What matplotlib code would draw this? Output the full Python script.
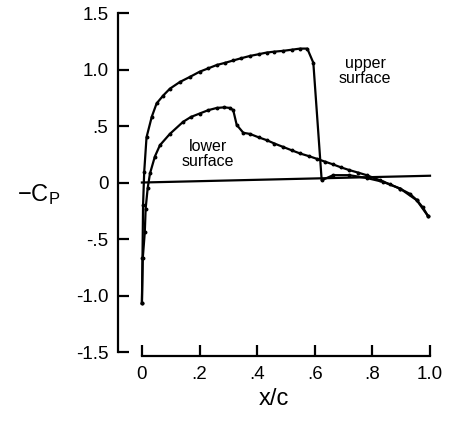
import matplotlib.pyplot as plt

plt.rcParams['font.family'] = ['Liberation Sans', 'DejaVu Sans']
plt.rcParams['mathtext.fontset'] = 'custom'
plt.rcParams['mathtext.rm'] = 'Liberation Sans'
plt.rcParams['mathtext.it'] = 'Liberation Sans'

# Upper surface pressure distribution (x/c, -Cp)
upper_x = [0.0, 0.002, 0.004, 0.008, 0.016, 0.034, 0.051, 0.074, 0.097, 0.132,
           0.167, 0.20, 0.23, 0.26, 0.29, 0.317, 0.345, 0.375, 0.405, 0.433,
           0.46, 0.49, 0.52, 0.549, 0.574, 0.595, 0.624, 0.664, 0.72, 0.78,
           0.837, 0.896, 0.954, 0.994]
upper_cp = [-1.07, -0.67, -0.2, 0.095, 0.40, 0.58, 0.70, 0.77, 0.83, 0.89,
            0.935, 0.98, 1.01, 1.04, 1.06, 1.08, 1.10, 1.12, 1.135, 1.15,
            1.158, 1.165, 1.175, 1.185, 1.185, 1.06, 0.02, 0.065, 0.065, 0.04,
            0.006, -0.053, -0.157, -0.30]

# Lower surface pressure distribution
lower_x = [0.0, 0.003, 0.01, 0.013, 0.02, 0.028, 0.045, 0.0625, 0.097, 0.143,
           0.17, 0.20, 0.23, 0.26, 0.285, 0.306, 0.317, 0.329, 0.352, 0.375,
           0.405, 0.433, 0.46, 0.49, 0.52, 0.549, 0.58, 0.607, 0.635, 0.664,
           0.69, 0.72, 0.75, 0.78, 0.826, 0.86, 0.896, 0.93, 0.954, 0.975, 0.994]
lower_cp = [-1.07, -0.67, -0.44, -0.23, -0.05, 0.08, 0.23, 0.33, 0.43, 0.537,
            0.58, 0.61, 0.64, 0.66, 0.665, 0.66, 0.64, 0.51, 0.44, 0.43,
            0.40, 0.375, 0.345, 0.315, 0.285, 0.257, 0.233, 0.21, 0.185, 0.16,
            0.135, 0.11, 0.088, 0.065, 0.02, -0.015, -0.055, -0.10, -0.155,
            -0.22, -0.30]

ref_x = [0.0, 1.0]
ref_cp = [0.0, 0.06]

yticks = [1.5, 1.0, 0.5, 0, -0.5, -1.0, -1.5]
ytick_labels = ['1.5', '1.0', '.5', '0', '-.5', '-1.0', '-1.5']
xticks = [0, 0.2, 0.4, 0.6, 0.8, 1.0]
xtick_labels = ['0', '.2', '.4', '.6', '.8', '1.0']

fig = plt.figure(figsize=(4.5, 4.21), dpi=100)
ax = fig.add_axes([118 / 450, 1 - 356 / 421, 312 / 450, 343 / 421])
ax.set_xlim(-0.083, 1.0)
ax.set_ylim(-1.535, 1.5)

ax.plot(ref_x, ref_cp, color='black', lw=1.6, clip_on=False)
ax.plot(upper_x, upper_cp, color='black', lw=1.6, marker='o', ms=1.8, clip_on=False)
ax.plot(lower_x, lower_cp, color='black', lw=1.6, marker='o', ms=1.8, clip_on=False)

ax.text(0.775, 0.99, 'upper\nsurface', ha='center', va='center', fontsize=11.5,
        linespacing=1.0)
ax.text(0.229, 0.25, 'lower\nsurface', ha='center', va='center', fontsize=11.5,
        linespacing=1.0)

for side in ['top', 'right']:
    ax.spines[side].set_visible(False)
ax.spines['left'].set_bounds(-1.5, 1.5)
ax.spines['bottom'].set_bounds(0, 1.0)
ax.spines['left'].set_linewidth(1.6)
ax.spines['bottom'].set_linewidth(1.6)

ax.set_yticks(yticks)
ax.set_yticklabels(ytick_labels)
ax.set_xticks(xticks)
ax.set_xticklabels(xtick_labels)
ax.tick_params(direction='in', length=8, width=1.6, labelsize=13.5, pad=7)

ax.set_xlabel('x/c', fontsize=17, labelpad=4)
ax.set_ylabel(r'$-\mathrm{C_P}$', fontsize=17, rotation=0, va='center')
ax.yaxis.set_label_coords(-0.255, 0.47)

fig.savefig('out.png', dpi=100)
